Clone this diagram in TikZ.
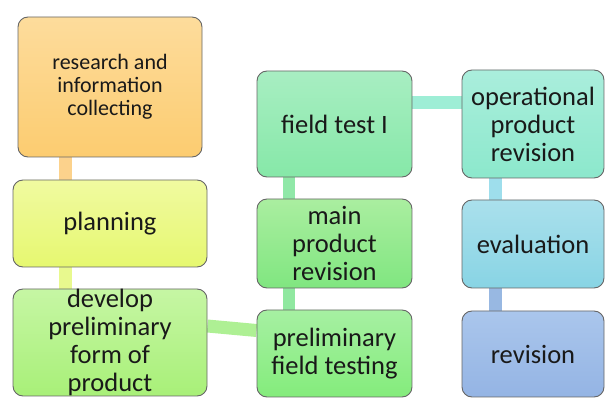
\documentclass[tikz,border=0pt]{standalone}
\usepackage{fontspec}
\setmainfont{Carlito}
\usetikzlibrary{backgrounds}
\begin{document}
\begin{tikzpicture}[x=1pt,y=-1pt,
  stagebox/.style={draw=black!60, line width=0.9pt, rounded corners=10pt,
    inner sep=0pt, align=center, text=black!90,
    font=\fontsize{26.5}{28}\selectfont},
  link/.style={line width=13pt},
]
\useasboundingbox (0,0) rectangle (606,398);

% first column
\node[stagebox, minimum width=184pt, minimum height=140pt,
  top color={rgb,255:red,253;green,220;blue,156}, bottom color={rgb,255:red,252;green,204;blue,112},
  font=\fontsize{22}{23}\selectfont]
  (res) at (110,87) {research and\\information\\collecting};
\node[stagebox, minimum width=194pt, minimum height=87pt,
  top color={rgb,255:red,240;green,250;blue,160}, bottom color={rgb,255:red,230;green,248;blue,112}]
  (plan) at (110,223.5) {planning};
\node[stagebox, minimum width=194pt, minimum height=107pt,
  top color={rgb,255:red,198;green,246;blue,164}, bottom color={rgb,255:red,168;green,240;blue,120}]
  (dev) at (110,342.5) {develop\\preliminary\\form of\\product};

% second column
\node[stagebox, minimum width=155pt, minimum height=106pt,
  top color={rgb,255:red,168;green,238;blue,194}, bottom color={rgb,255:red,134;green,232;blue,168}]
  (ft) at (334.5,124) {field test I};
\node[stagebox, minimum width=155pt, minimum height=89pt,
  top color={rgb,255:red,170;green,238;blue,160}, bottom color={rgb,255:red,128;green,230;blue,128}]
  (mpr) at (334.5,243.5) {main\\product\\revision};
\node[stagebox, minimum width=155pt, minimum height=87pt,
  top color={rgb,255:red,166;green,240;blue,162}, bottom color={rgb,255:red,132;green,236;blue,124}]
  (pft) at (334.5,353.5) {preliminary\\field testing};

% third column
\node[stagebox, minimum width=142pt, minimum height=108pt,
  top color={rgb,255:red,170;green,238;blue,220}, bottom color={rgb,255:red,140;green,232;blue,204}]
  (op) at (533,124) {operational\\product\\revision};
\node[stagebox, minimum width=142pt, minimum height=88pt,
  top color={rgb,255:red,170;green,224;blue,236}, bottom color={rgb,255:red,136;green,212;blue,228}]
  (ev) at (533,244) {evaluation};
\node[stagebox, minimum width=142pt, minimum height=86pt,
  top color={rgb,255:red,170;green,198;blue,236}, bottom color={rgb,255:red,148;green,180;blue,228}]
  (rev) at (533,354) {revision};

% x positions of the vertical links
\coordinate (k1) at (65,0);
\coordinate (k2) at (289,0);
\coordinate (k3) at (495,0);

\begin{pgfonlayer}{background}
  \draw[link, color={rgb,255:red,252;green,210;blue,140}] (res.south -| k1) -- (plan.north -| k1);
  \draw[link, color={rgb,255:red,232;green,249;blue,142}] (plan.south -| k1) -- (dev.north -| k1);
  \draw[link, color={rgb,255:red,174;green,240;blue,148}] ([yshift=16.5pt]dev.east) -- ([yshift=23pt]pft.west);
  \draw[link, line width=12pt, color={rgb,255:red,144;green,232;blue,160}] (pft.north -| k2) -- (mpr.south -| k2);
  \draw[link, line width=12pt, color={rgb,255:red,144;green,232;blue,168}] (mpr.north -| k2) -- (ft.south -| k2);
  \draw[link, color={rgb,255:red,158;green,238;blue,214}] ([yshift=21pt]ft.east) -- ([yshift=21pt]op.west);
  \draw[link, color={rgb,255:red,158;green,222;blue,236}] (op.south -| k3) -- (ev.north -| k3);
  \draw[link, color={rgb,255:red,152;green,184;blue,226}] (ev.south -| k3) -- (rev.north -| k3);
\end{pgfonlayer}
\end{tikzpicture}
\end{document}
